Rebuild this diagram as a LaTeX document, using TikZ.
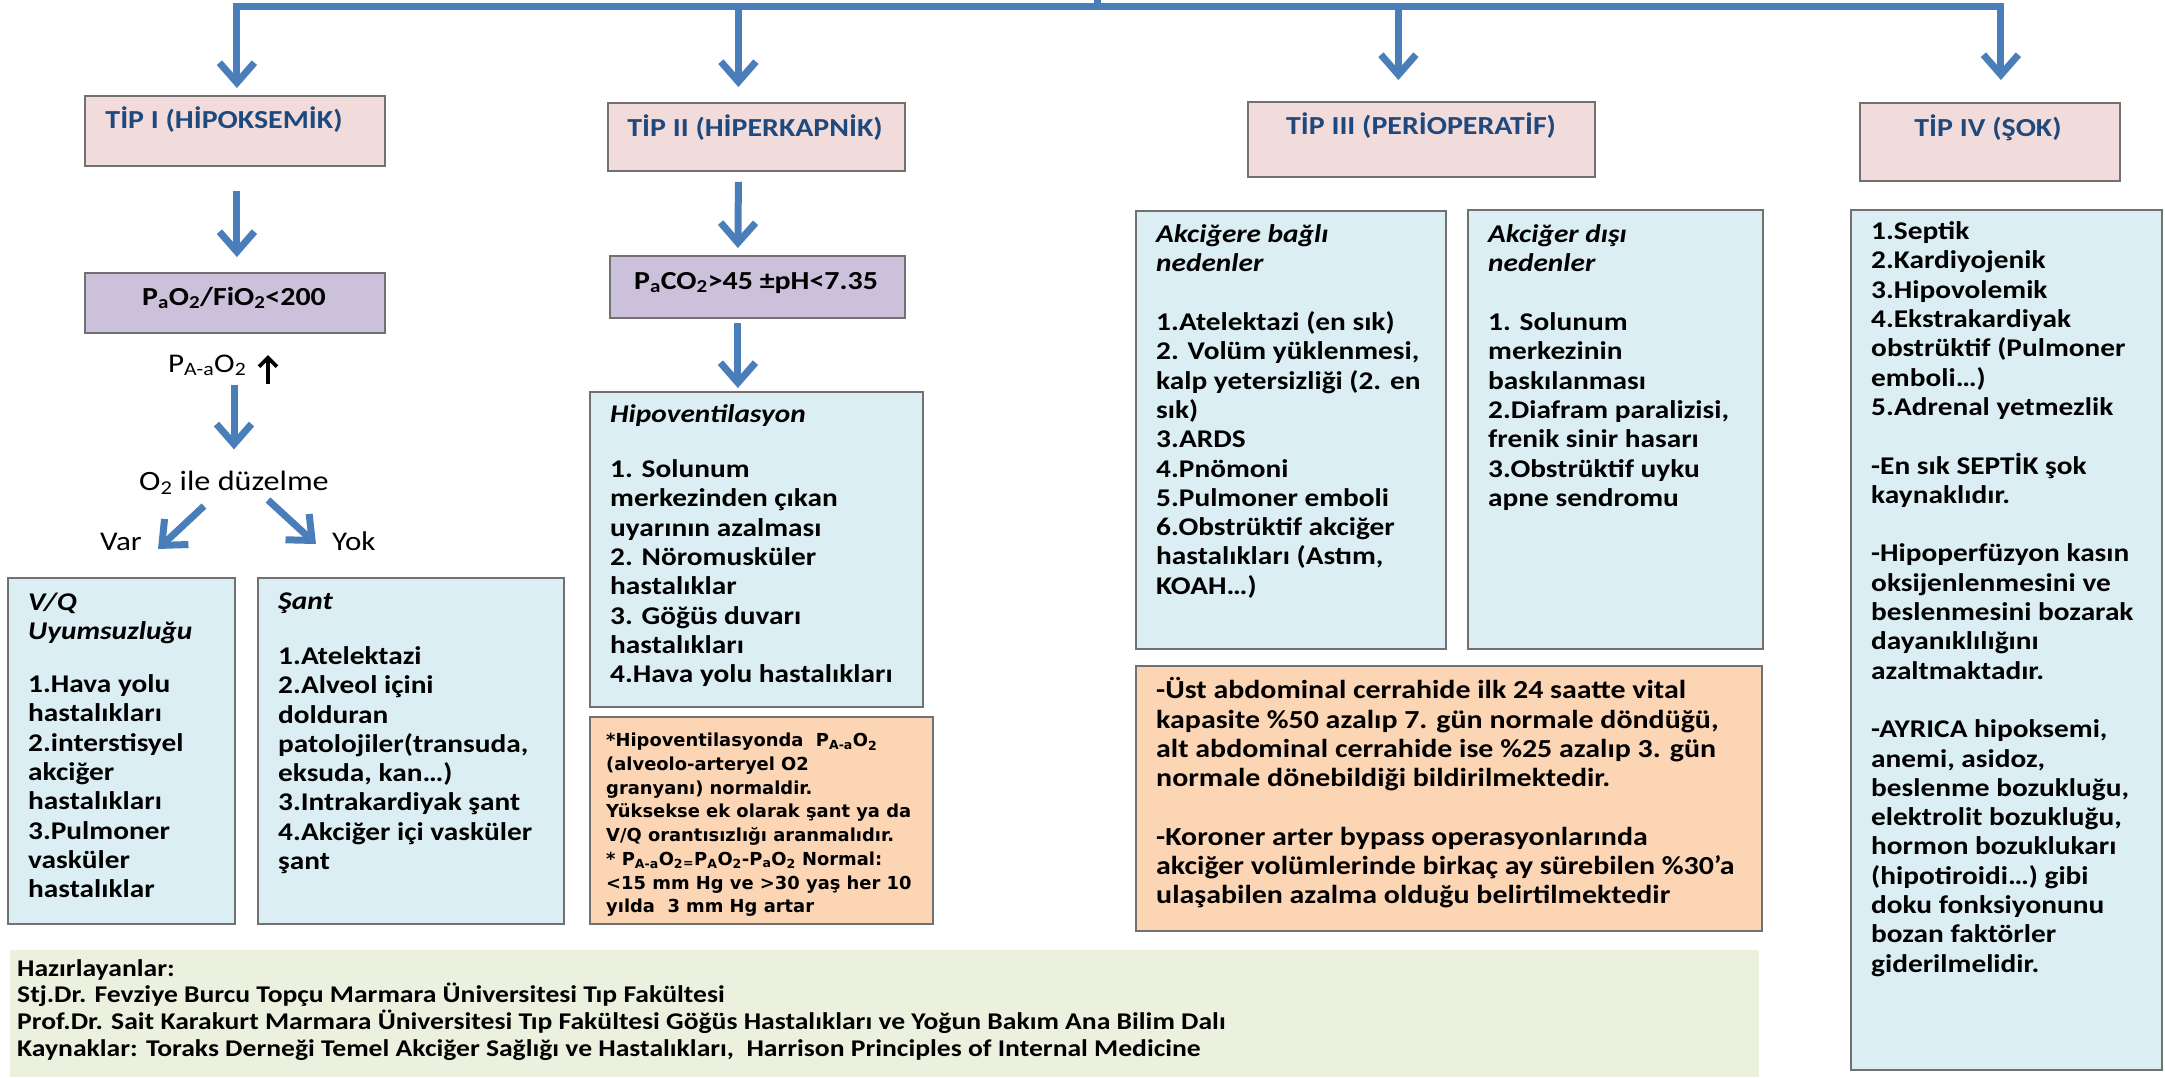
\documentclass[tikz,border=0pt]{standalone}
\usepackage{fontspec}
\setmainfont{Carlito}[FakeStretch=1.15]
\newfontfamily\notefont{DejaVu Sans}
\usetikzlibrary{arrows.meta}

\definecolor{pinkfill}{HTML}{F2DCDB}
\definecolor{lavfill}{HTML}{CCC1DA}
\definecolor{bluefill}{HTML}{DBEEF4}
\definecolor{orangefill}{HTML}{FCD5B5}
\definecolor{greenfill}{HTML}{EBF1DE}
\definecolor{arrowblue}{HTML}{4A7EBB}
\definecolor{edgegray}{HTML}{717171}
\definecolor{headblue}{HTML}{1F497D}

\newcommand{\lo}[1]{\textsubscript{#1}}

\tikzset{
  panel/.style 2 args={rectangle, draw=edgegray, line width=1.8pt, anchor=north west,
    inner sep=0pt, minimum width=#1pt, minimum height=#2pt},
  flow/.style={draw=arrowblue, line width=7pt,
    -{Straight Barb[length=20pt,width=35pt]}},
  busline/.style={draw=arrowblue, line width=7pt},
  head/.style={anchor=base, inner sep=0pt, text=headblue,
    font=\bfseries\fontsize{26}{30}\selectfont},
  % multi-line texts: anchored at the top of a strut on the first line
  txt/.style={anchor=north west, align=left, inner sep=0pt,
    font=\bfseries\fontsize{25.5}{29.3}\selectfont, execute at begin node=\strut},
  note/.style={anchor=north west, align=left, inner sep=0pt,
    font=\notefont\bfseries\fontsize{17.9}{23.7}\selectfont, execute at begin node=\strut},
  foottxt/.style={anchor=north west, align=left, inner sep=0pt,
    font=\bfseries\fontsize{24}{26.7}\selectfont, execute at begin node=\strut},
  plain/.style={inner sep=0pt, font=\fontsize{27}{30}\selectfont}
}

\begin{document}
\begin{tikzpicture}[x=1pt,y=-1pt]
\useasboundingbox (0,0) rectangle (2165,1077);
\fill[white] (0,0) rectangle (2165,1077);

% ---- type headers ----
\node[panel={300}{70}, fill=pinkfill] (t1) at (84,95) {};
\node[panel={297}{68}, fill=pinkfill] (t2) at (607,102) {};
\node[panel={347}{75}, fill=pinkfill] (t3) at (1247,101) {};
\node[panel={260}{78}, fill=pinkfill] (t4) at (1859,102) {};
\node[head] (t1txt) at (224,128) {TİP I (HİPOKSEMİK)};
\node[head] (t2txt) at (755,136) {TİP II (HİPERKAPNİK)};
\node[head] (t3txt) at (1421,134) {TİP III (PERİOPERATİF)};
\node[head] (t4txt) at (1988,136) {TİP IV (ŞOK)};

% ---- distribution bus ----
\coordinate (bus) at (1097,6);
\coordinate (bustop) at (1097,0);
\draw[busline] (bus) -- (bustop);
\draw[flow] (bus) -| ([xshift=2pt,yshift=7pt]t1.north);
\draw[flow] (bus) -| ([xshift=11pt,yshift=22pt]t4.north);
\draw[flow] ([xshift=-18pt]t2.north |- bus) -- ([xshift=-18pt,yshift=15pt]t2.north);
\draw[flow] ([xshift=-23pt]t3.north |- bus) -- ([xshift=-23pt,yshift=21pt]t3.north);

% ---- Tip I branch ----
\node[panel={300}{60}, fill=lavfill] (r1) at (84,272) {};
\node[anchor=base, inner sep=0pt, font=\bfseries\fontsize{26}{30}\selectfont] (r1txt)
  at (234,305) {P\lo{a}O\lo{2}/FiO\lo{2}<200};
\draw[flow] ([xshift=2pt,yshift=-24pt]t1.south) -- ([xshift=2pt,yshift=15pt]r1.north);

\node[plain, anchor=base west] (pa) at (168,372) {P\lo{A-a}O\lo{2}};
\coordinate (upA) at (268,384);
\coordinate (upB) at (268,355);
\draw[black, line width=3.8pt, -{Straight Barb[length=9pt,width=18pt]}] (upA) -- (upB);

\node[plain, anchor=base, font=\fontsize{28}{30}\selectfont] (o2) at (234,490) {O\lo{2} ile düzelme};
\draw[flow] ([yshift=-9pt]o2.north |- pa.south) -- ([yshift=21pt]o2.north);

\node[plain, anchor=base west] (var) at (100,550) {Var};
\node[plain, anchor=base west] (yok) at (332,550) {Yok};
\coordinate (varA) at (204,506);
\coordinate (varB) at (158,549);
\coordinate (yokA) at (268,500);
\coordinate (yokB) at (316,544);
\draw[flow] (varA) -- (varB);
\draw[flow] (yokA) -- (yokB);

\node[panel={227}{346}, fill=bluefill] (vq) at (7,577) {};
\node[txt] (vqtxt) at (28,592.5) {\textit{V/Q}\\\textit{Uyumsuzluğu}\\[23.7pt]1.Hava yolu\\hastalıkları\\2.interstisyel\\akciğer\\hastalıkları\\3.Pulmoner\\vasküler\\hastalıklar};

\node[panel={306}{346}, fill=bluefill] (sant) at (257,577) {};
\node[txt] (santtxt) at (278,592.5) {\textit{Şant}\\[25.7pt]1.Atelektazi\\2.Alveol içini\\dolduran\\patolojiler(transuda,\\eksuda, kan…)\\3.Intrakardiyak şant\\4.Akciğer içi vasküler\\şant};

% ---- Tip II branch ----
\node[panel={295}{62}, fill=lavfill] (r2) at (609,255) {};
\node[anchor=base, inner sep=0pt, font=\bfseries\fontsize{26}{30}\selectfont] (r2txt)
  at (756,289) {P\lo{a}CO\lo{2}>45 ±pH<7.35};
\draw[flow] ([xshift=-18pt,yshift=-10pt]t2.south) -- ([xshift=-19.5pt,yshift=7pt]r2.north);

\node[panel={333}{315}, fill=bluefill] (hv) at (589,391) {};
\draw[flow] ([xshift=-19.5pt,yshift=-4pt]r2.south) -- ([xshift=-18.5pt,yshift=3pt]hv.north);
\node[txt] (hvtxt) at (610,404.5) {\textit{Hipoventilasyon}\\[25.7pt]1. Solunum\\merkezinden çıkan\\uyarının azalması\\2. Nöromusküler\\hastalıklar\\3. Göğüs duvarı\\hastalıkları\\4.Hava yolu hastalıkları};

\node[panel={343}{207}, fill=orangefill] (n2) at (589,716) {};
\node[note] (n2txt) at (606,733) {*Hipoventilasyonda\ \ P\lo{A-a}O\lo{2}\\(alveolo-arteryel O2\\granyanı) normaldir.\\Yüksekse ek olarak şant ya da\\V/Q orantısızlığı aranmalıdır.\\* P\lo{A-a}O\lo{2}\lo{=}P\lo{A}O\lo{2}-P\lo{a}O\lo{2} Normal:\\<15 mm Hg ve >30 yaş her 10\\yılda\ \ 3 mm Hg artar};

% ---- Tip III branch ----
\node[panel={310}{438}, fill=bluefill] (a1) at (1135,210) {};
\node[txt] (a1txt) at (1156,224.5) {\textit{Akciğere bağlı}\\\textit{nedenler}\\[29.3pt]1.Atelektazi (en sık)\\2. Volüm yüklenmesi,\\kalp yetersizliği (2. en\\sık)\\3.ARDS\\4.Pnömoni\\5.Pulmoner emboli\\6.Obstrüktif akciğer\\hastalıkları (Astım,\\KOAH…)};

\node[panel={295}{439}, fill=bluefill] (a2) at (1467,209) {};
\node[txt] (a2txt) at (1488,224.5) {\textit{Akciğer dışı}\\\textit{nedenler}\\[29.3pt]1. Solunum\\merkezinin\\baskılanması\\2.Diafram paralizisi,\\frenik sinir hasarı\\3.Obstrüktif uyku\\apne sendromu};

\node[panel={626}{265}, fill=orangefill] (o3) at (1135,665) {};
\node[txt, font=\bfseries\fontsize{26}{29.3}\selectfont] (o3txt) at (1156,677.5) {-Üst abdominal cerrahide ilk 24 saatte vital\\kapasite \%50 azalıp 7. gün normale döndüğü,\\alt abdominal cerrahide ise \%25 azalıp 3. gün\\normale dönebildiği bildirilmektedir.\\[29.3pt]-Koroner arter bypass operasyonlarında\\akciğer volümlerinde birkaç ay sürebilen \%30’a\\ulaşabilen azalma olduğu belirtilmektedir};

% ---- Tip IV branch ----
\node[panel={311}{860}, fill=bluefill] (s4) at (1850,209) {};
\node[txt] (s4txt) at (1871,221.5) {1.Septik\\2.Kardiyojenik\\3.Hipovolemik\\4.Ekstrakardiyak\\obstrüktif (Pulmoner\\emboli…)\\5.Adrenal yetmezlik\\[29.3pt]-En sık SEPTİK şok\\kaynaklıdır.\\[29.3pt]-Hipoperfüzyon kasın\\oksijenlenmesini ve\\beslenmesini bozarak\\dayanıklılığını\\azaltmaktadır.\\[29.3pt]-AYRICA hipoksemi,\\anemi, asidoz,\\beslenme bozukluğu,\\elektrolit bozukluğu,\\hormon bozuklukarı\\(hipotiroidi…) gibi\\doku fonksiyonunu\\bozan faktörler\\giderilmelidir.};

% ---- credits ----
\node[rectangle, anchor=north west, inner sep=0pt, fill=greenfill,
  minimum width=1749pt, minimum height=127pt] (foot) at (10,950) {};
\node[foottxt] (foottxt) at (17,959) {Hazırlayanlar:\\Stj.Dr. Fevziye Burcu Topçu Marmara Üniversitesi Tıp Fakültesi\\Prof.Dr. Sait Karakurt Marmara Üniversitesi Tıp Fakültesi Göğüs Hastalıkları ve Yoğun Bakım Ana Bilim Dalı\\Kaynaklar: Toraks Derneği Temel Akciğer Sağlığı ve Hastalıkları,\ \ Harrison Principles of Internal Medicine};
\end{tikzpicture}
\end{document}
